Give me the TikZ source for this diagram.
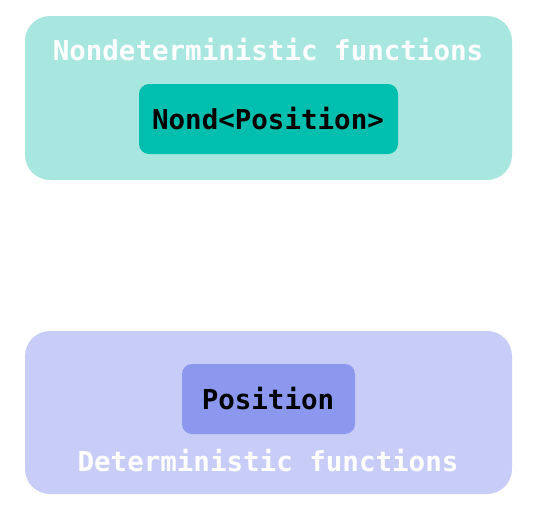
\documentclass[tikz,border=0pt]{standalone}
\usepackage{fontspec}
\setmonofont{DejaVu Sans Mono}
\begin{document}
\begin{tikzpicture}[x=1pt,y=-1pt,
  lbl/.style={font=\fontsize{27.5}{31}\selectfont\ttfamily\bfseries, inner sep=0pt, anchor=base},
  outerbox/.style={rounded corners=25pt},
  innerbox/.style={rounded corners=10pt}]
\definecolor{tealL}{HTML}{A8E7E0}
\definecolor{tealD}{HTML}{00BFAE}
\definecolor{blueL}{HTML}{C8CDF8}
\definecolor{blueD}{HTML}{8C98EE}
\useasboundingbox (0,0) rectangle (536,520);
\fill[tealL, outerbox] (25,16) rectangle (512,180);
\fill[tealD, innerbox] (139,84) rectangle (398,154);
\node[lbl, text=white] (t1) at (268,60) {Nondeterministic functions};
\node[lbl, text=black] (n1) at (268,129) {Nond<Position>};
\fill[blueL, outerbox] (25,331) rectangle (512,494);
\fill[blueD, innerbox] (182,364) rectangle (355,434);
\node[lbl, text=black] (n2) at (268,409) {Position};
\node[lbl, text=white] (t2) at (268,471) {Deterministic functions};
\end{tikzpicture}
\end{document}
